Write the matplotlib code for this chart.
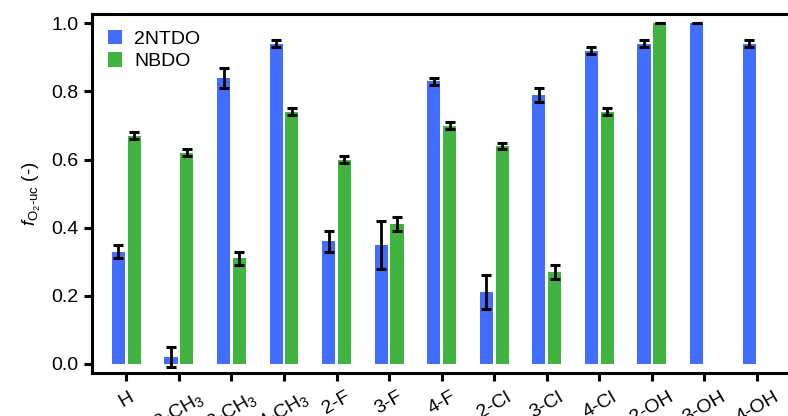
import numpy as np
import matplotlib
matplotlib.use("Agg")
import matplotlib.pyplot as plt

labels = ["H", "2-CH$_3$", "3-CH$_3$", "4-CH$_3$", "2-F", "3-F", "4-F",
          "2-Cl", "3-Cl", "4-Cl", "2-OH", "3-OH", "4-OH"]
ntdo = [0.33, 0.02, 0.84, 0.94, 0.36, 0.35, 0.83, 0.21, 0.79, 0.92, 0.94, 1.00, 0.94]
ntdo_err = [0.02, 0.03, 0.03, 0.01, 0.03, 0.07, 0.01, 0.05, 0.02, 0.01, 0.01, 0.0, 0.01]
nbdo = [0.67, 0.62, 0.31, 0.74, 0.60, 0.41, 0.70, 0.64, 0.27, 0.74, 1.00, np.nan, np.nan]
nbdo_err = [0.01, 0.01, 0.02, 0.01, 0.01, 0.02, 0.01, 0.01, 0.02, 0.01, 0.0, np.nan, np.nan]

plt.rcParams["font.family"] = ["Liberation Sans", "DejaVu Sans"]
plt.rcParams["mathtext.fontset"] = "custom"
plt.rcParams["mathtext.rm"] = "Liberation Sans"
plt.rcParams["mathtext.it"] = "Liberation Sans:italic"

fig = plt.figure(figsize=(7.88, 4.16), dpi=100)
ax = fig.add_axes([0.117, 0.103, 0.883, 0.863])

x = np.arange(len(labels))
w = 0.25
ekw = dict(fmt="none", ecolor="black", elinewidth=2.0, capsize=3.8, capthick=2.2, zorder=3)
ax.bar(x - 0.15, ntdo, w, color="#416eff", label="2NTDO")
ax.bar(x + 0.15, nbdo, w, color="#41b341", label="NBDO")
ax.errorbar(x - 0.15, ntdo, yerr=ntdo_err, **ekw)
ax.errorbar(x + 0.15, nbdo, yerr=nbdo_err, **ekw)

ax.set_xlim(-0.65, 12.59)
ax.set_ylim(-0.027, 1.027)
ax.set_yticks([0.0, 0.2, 0.4, 0.6, 0.8, 1.0])
ax.set_yticklabels(["0.0", "0.2", "0.4", "0.6", "0.8", "1.0"])
ax.set_xticks(x)
ax.set_xticklabels(labels, rotation=30, ha="center")
ax.tick_params(axis="both", labelsize=14, length=6, width=2.2, direction="out")
ax.tick_params(axis="x", pad=5)
ax.tick_params(axis="y", pad=4)
ax.set_ylabel(r"$f_{\mathrm{O_2\text{-}uc}}$ (-)", fontsize=13.5, labelpad=6)

for side in ["left", "bottom", "top"]:
    ax.spines[side].set_linewidth(2.2)
ax.spines["right"].set_visible(False)

ax.legend(loc="upper left", frameon=False, fontsize=14, handlelength=0.75,
          handleheight=0.75, handletextpad=0.6, labelspacing=0.25,
          borderaxespad=0.4, bbox_to_anchor=(0.0, 1.0))

fig.savefig("out.png", dpi=100)
